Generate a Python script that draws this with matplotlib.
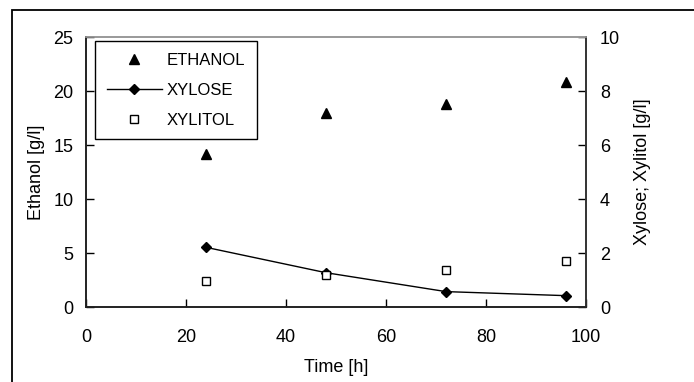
import matplotlib.pyplot as plt
from matplotlib.patches import Rectangle

plt.rcParams['font.family'] = ['Liberation Sans', 'DejaVu Sans']
plt.rcParams['font.size'] = 13

time_h = [24, 48, 72, 96]
ethanol = [14.2, 18.0, 18.8, 20.8]
xylose = [2.21, 1.27, 0.57, 0.42]
xylitol = [0.96, 1.18, 1.37, 1.69]

fig = plt.figure(figsize=(6.94, 3.82), dpi=100)
W, H = 694, 382
ax = fig.add_axes([86 / W, 1 - 307 / H, 500 / W, 270 / H])
ax2 = ax.twinx()

# outer frame (cropped at right/bottom like the original)
fig.patches.append(Rectangle((12 / W, -0.05), 1.2, 1 - 10 / H + 0.05,
                             transform=fig.transFigure, fill=False,
                             edgecolor='black', linewidth=1.3))

h1, = ax.plot(time_h, ethanol, linestyle='none', marker='^', color='black',
              markersize=6.5, label='ETHANOL')
h2, = ax2.plot(time_h, xylose, color='black', marker='D', markersize=5,
               linewidth=1, label='XYLOSE')
h3, = ax2.plot(time_h, xylitol, linestyle='none', marker='s', markersize=5.5,
               markerfacecolor='white', markeredgecolor='black',
               markeredgewidth=1, label='XYLITOL')

ax.set_xlim(0, 100)
ax.set_ylim(0, 25)
ax2.set_ylim(0, 10)
ax.set_xticks([0, 20, 40, 60, 80, 100])
ax.set_yticks([0, 5, 10, 15, 20, 25])
ax2.set_yticks([0, 2, 4, 6, 8, 10])

ax.tick_params(direction='in', length=6, width=1, pad=9)
ax.tick_params(axis='x', pad=16)
ax2.tick_params(direction='in', length=6, width=1, pad=10)

for a in (ax, ax2):
    a.spines['top'].set_color('#999999')
    a.spines['left'].set_color('#222222')
    a.spines['right'].set_color('#333333')
    a.spines['bottom'].set_color('#222222')
    for s in a.spines.values():
        s.set_linewidth(1.2)

ax.set_xlabel('Time [h]', labelpad=9)
ax.set_ylabel('Ethanol [g/l]', labelpad=6)
ax2.set_ylabel('Xylose; Xylitol [g/l]', labelpad=10)

leg = ax.legend(handles=[h1, h2, h3], loc='upper left',
                bbox_to_anchor=(9 / 500, 1 - 4 / 270), frameon=True,
                fancybox=False, edgecolor='black', framealpha=1,
                fontsize=12, handlelength=3.3, handletextpad=0.3,
                borderpad=0.7, labelspacing=0.9, borderaxespad=0)
leg.get_frame().set_linewidth(1)
ax.set_zorder(ax2.get_zorder() + 1)
ax.patch.set_visible(False)

fig.savefig('out.png', dpi=100)
